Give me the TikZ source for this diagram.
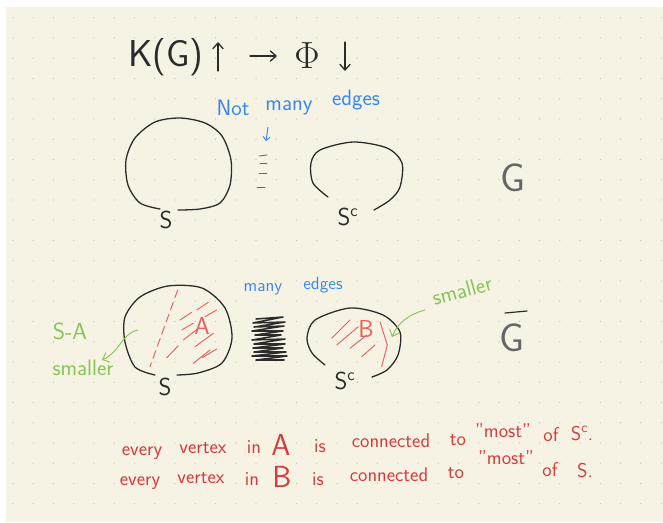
\documentclass[tikz,border=0pt]{standalone}
\usepackage{tkz-euclide}
\usetikzlibrary{arrows.meta,calc}
\definecolor{PaperClr}{rgb}{0.965,0.953,0.900}
\definecolor{DotClr}{rgb}{0.78,0.77,0.72}
\definecolor{InkClr}{rgb}{0.17,0.17,0.17}
\definecolor{GrayInkClr}{rgb}{0.40,0.40,0.40}
\definecolor{BlueClr}{rgb}{0.23,0.53,0.92}
\definecolor{GreenClr}{rgb}{0.53,0.77,0.33}
\definecolor{HatchClr}{rgb}{0.90,0.38,0.36}
\definecolor{RedClr}{rgb}{0.84,0.23,0.23}
\newcommand\TitleFont{\sffamily\fontsize{32}{36}\selectfont}
\newcommand\SetFont{\sffamily\fontsize{21}{24}\selectfont}
\newcommand\NoteFont{\sffamily\fontsize{17}{20}\selectfont}
\tikzset{
  ink/.style={line width=1.1pt,color=InkClr,line cap=round,line join=round},
  hatch/.style={line width=0.8pt,color=HatchClr,line cap=round},
  greenink/.style={line width=0.8pt,color=GreenClr,line cap=round},
  inktext/.style={text=InkClr,inner sep=0pt},
  blueword/.style={anchor=base,text=BlueClr,inner sep=0pt,font=\sffamily\fontsize{19}{22}\selectfont},
  greenword/.style={anchor=base,text=GreenClr,inner sep=0pt,font=\sffamily\fontsize{19}{22}\selectfont},
  redword/.style={anchor=base,text=RedClr,inner sep=0pt,font=\NoteFont},
  barb/.style={-{Straight Barb[length=5pt,width=9pt]}}
}

\begin{document}
\begin{tikzpicture}[x=0.03cm,y=-0.03cm]
\fill[white] (0,0) rectangle (663,522);
\fill[PaperClr] (6,7) rectangle (663,522);
\useasboundingbox (0,0) rectangle (663,522);

\foreach \i in {0,...,32}{
  \foreach \j in {0,...,24}{
    \fill[DotClr] ({13+20.25*\i},{17.7+20.25*\j}) circle (0.6pt);
  }
}

% title
\tkzDefPoints{218/71/UpS,218/42/UpE,250/56/RtS,277/56/RtE,345/42/DnS,345/71/DnE}
\node[inktext,font=\TitleFont] (KG) at (166,57) {K(G)};
\node[inktext,font=\fontsize{24}{28}\selectfont,scale=1.3] (Phi) at (307,56) {$\Phi$};
\draw[ink,barb] (UpS) -- (UpE);
\draw[ink,barb] (RtS) -- (RtE);
\draw[ink,barb] (DnS) -- (DnE);

% G : not many edges
\tkzDefPoints{268/127/NoS,266/141/NoE}
\tkzDefPoints{259/156/T1s,267/155/T1e,260/163/T2s,267/163/T2e,
              259/173/T3s,267/173/T3e,257/187/T4s,265/187/T4e}
\node[blueword] (wNot) at (233,115) {Not};
\node[blueword] (wMany) at (289,110) {many};
\node[blueword] (wEdges) at (356,105) {edges};
\draw[line width=0.8pt,color=BlueClr,-{Straight Barb[length=3pt,width=6pt]}] (NoS) -- (NoE);
\tkzDrawSegments[line width=0.7pt,color=GrayInkClr,line cap=round](T1s,T1e T2s,T2e T3s,T3e T4s,T4e)

\draw[ink] plot[smooth] coordinates {(160,209) (140,203) (128,185) (126,160) (135,138)
  (155,122) (180,118) (205,123) (222,136) (231,160) (230,185) (220,203) (200,209) (178,210)};
\draw[ink] plot[smooth] coordinates {(328,197) (313,183) (311,163) (320,150) (353,142)
  (387,148) (402,163) (400,187) (390,200) (374,210)};
\node[inktext,font=\SetFont] (S1) at (166,220) {S};
\node[inktext,font=\SetFont] (Sc1) at (348,217) {S$^{\mathsf{c}}$};
\node[text=GrayInkClr,inner sep=0pt,font=\sffamily\fontsize{34}{38}\selectfont] (G) at (513,178) {G};

% complement : many edges
\node[blueword,font=\sffamily\fontsize{15}{18}\selectfont] (wMany2) at (263,291) {many};
\node[blueword,font=\sffamily\fontsize{15}{18}\selectfont] (wEdges2) at (323,289) {edges};

\draw[ink] plot[smooth] coordinates {(155,375) (135,367) (125,342) (125,317) (140,297)
  (168,286) (202,288) (225,308) (232,338) (222,363) (198,373) (177,375)};
\draw[ink] plot[smooth] coordinates {(325,365) (312,353) (307,338) (315,320) (350,308)
  (383,315) (400,332) (398,355) (387,370) (372,377)};
\draw[ink,line width=1.3pt] plot coordinates {(256,319) (283,317) (253,323) (285,322) (254,327)
  (284,326) (252,331) (283,331) (255,335) (281,335) (252,340) (285,339) (254,344) (285,344)
  (253,348) (283,348) (254,352) (286,352) (252,356) (287,356) (256,360) (284,360)};
\node[inktext,font=\SetFont] (S2) at (165,387) {S};
\node[inktext,font=\SetFont] (Sc2) at (345,381) {S$^{\mathsf{c}}$};
\tkzDefPoints{505/313/BarS,527/311/BarE}
\node[text=GrayInkClr,inner sep=0pt,font=\sffamily\fontsize{34}{38}\selectfont] (Gbar) at (512,338) {G};
\tkzDrawSegments[line width=1pt,color=InkClr,line cap=round](BarS,BarE)

% A and B
\tkzDefPoints{177.7/290/DaS,150/366.7/DaE}
\tkzDefPoints{196.7/310/a1s,208.3/302.3/a1e,205/316.7/a2s,216.7/310/a2e,
              180/320/a3s,191.7/312.3/a3e,181.7/330/a4s,193.3/323.3/a4e,
              183.3/340/a5s,198.3/328.3/a5e,195/346.7/a6s,213.3/333.3/a6e,
              166.7/357.7/a7s,178.3/345.7/a7e,193.3/363.3/a8s,210/350/a8e,
              202.3/357.7/a9s,216.7/349/a9e}
\tkzDefPoints{331.7/338.3/b1s,350/320/b1e,336.7/345/b2s,358.3/326.7/b2e,
              350/348.3/b3s,366.7/335/b3e,361.7/356.7/b4s,375/345/b4e,
              380/321.7/v1,387.3/345/v2,381.7/366.7/v3}
\tkzDrawSegments[hatch,dash pattern=on 7pt off 4pt](DaS,DaE)
\tkzDrawSegments[hatch](a1s,a1e a2s,a2e a3s,a3e a4s,a4e a5s,a5e a6s,a6e a7s,a7e a8s,a8e a9s,a9e)
\tkzDrawSegments[hatch](b1s,b1e b2s,b2e b3s,b3e b4s,b4e v1,v2 v2,v3)
\node[text=HatchClr,inner sep=0pt,font=\SetFont] (A) at (202,326) {A};
\node[text=HatchClr,inner sep=0pt,font=\SetFont] (B) at (366,329) {B};

% smaller
\tkzDefPoints{425/310/GrS,392/337/GrE,138/330/GlS,102/360/GlE}
\node[greenword,rotate=15] (wSmallR) at (464,298) {smaller};
\node[greenword,font=\sffamily\fontsize{20}{22}\selectfont] (wSA) at (70,339) {S-A};
\node[greenword] (wSmallL) at (83,375) {smaller};
\draw[greenink,barb] (GrS) .. controls (410,314) and (398,322) .. (GrE);
\draw[greenink,barb] (GlS) .. controls (122,333) and (120,352) .. (GlE);

% sentences
\node[redword] (l1a) at (142,455) {every};
\node[redword] (l1b) at (203,453) {vertex};
\node[redword] (l1c) at (254,453) {in};
\node[redword,font=\sffamily\fontsize{26}{28}\selectfont] (l1d) at (281,455) {A};
\node[redword] (l1e) at (320,452) {is};
\node[redword] (l1f) at (391,447) {connected};
\node[redword] (l1g) at (458,445) {to};
\node[redword] (l1h) at (503,437) {"most"};
\node[redword] (l1i) at (551,441) {of};
\node[redword] (l1j) at (582,440) {S$^{\mathsf{c}}$.};

\node[redword] (l2a) at (140,485) {every};
\node[redword] (l2b) at (201,483) {vertex};
\node[redword] (l2c) at (252,485) {in};
\node[redword,font=\sffamily\fontsize{26}{28}\selectfont] (l2d) at (282,487) {B};
\node[redword] (l2e) at (318,485) {is};
\node[redword] (l2f) at (389,481) {connected};
\node[redword] (l2g) at (456,478) {to};
\node[redword] (l2h) at (506,464) {"most"};
\node[redword] (l2i) at (550,476) {of};
\node[redword] (l2j) at (585,477) {S.};

\end{tikzpicture}
\end{document}
